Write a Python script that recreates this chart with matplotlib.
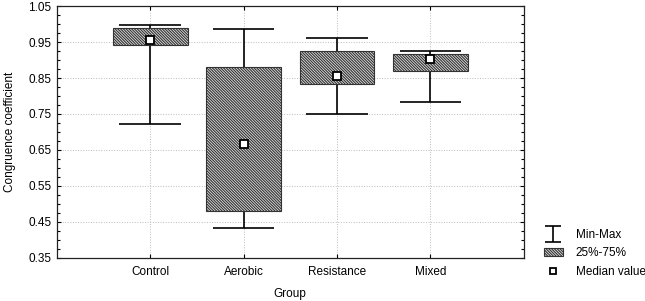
import matplotlib
matplotlib.use("Agg")
import matplotlib.pyplot as plt
from matplotlib.lines import Line2D
from matplotlib.patches import Patch
from matplotlib.path import Path
from matplotlib.ticker import MultipleLocator

plt.rcParams['font.family'] = ['Liberation Sans', 'DejaVu Sans']
plt.rcParams['hatch.color'] = '#3a3a3a'
plt.rcParams['hatch.linewidth'] = 0.8

groups = ["Control", "Aerobic", "Resistance", "Mixed"]
mins = [0.721, 0.433, 0.751, 0.783]
q25 = [0.942, 0.480, 0.832, 0.870]
medians = [0.955, 0.666, 0.855, 0.904]
q75 = [0.988, 0.881, 0.925, 0.918]
maxs = [0.997, 0.985, 0.960, 0.926]

pos = [1, 2, 3, 4]
hatch = '\\' * 12

fig = plt.figure(figsize=(6.45, 3.01), dpi=100)
ax = fig.add_axes([0.088, 0.143, 0.724, 0.837])

# whiskers
ax.vlines(pos, mins, maxs, color='black', lw=1.2, zorder=2)
ax.hlines(mins, [p - 0.33 for p in pos], [p + 0.33 for p in pos], color='black', lw=1.2, zorder=2)
ax.hlines(maxs, [p - 0.33 for p in pos], [p + 0.33 for p in pos], color='black', lw=1.2, zorder=2)

# boxes
heights = [b - a for a, b in zip(q25, q75)]
ax.bar(pos, heights, bottom=q25, width=0.8, facecolor='#e0e0e0', edgecolor='#333333',
       hatch=hatch, lw=0.8, zorder=3)

# medians
ax.plot(pos, medians, ls='none', marker='s', ms=6, mfc='white', mec='black', mew=1.3, zorder=4)

ax.set_xlim(0, 5)
ax.set_ylim(0.35, 1.05)
ax.set_xticks(pos)
ax.set_xticklabels(groups, fontsize=8.5)
ax.set_yticks([0.35, 0.45, 0.55, 0.65, 0.75, 0.85, 0.95, 1.05])
ax.set_yticklabels(["0.35", "0.45", "0.55", "0.65", "0.75", "0.85", "0.95", "1.05"], fontsize=8.5)
ax.yaxis.set_minor_locator(MultipleLocator(0.025))
ax.tick_params(direction='in', top=True, right=True, which='both', length=3, width=0.8)
ax.tick_params(which='minor', length=2)
ax.tick_params(axis='x', pad=6)
ax.tick_params(axis='y', pad=4)
ax.grid(True, which='major', ls=':', color='#bbbbbb', lw=0.7, zorder=0)
ax.set_axisbelow(True)
for s in ax.spines.values():
    s.set_linewidth(0.9)
    s.set_color('#222222')

ax.set_xlabel("Group", fontsize=8.5, labelpad=7)
ax.set_ylabel("Congruence coefficient", fontsize=8.5, labelpad=9)

minmax_marker = Path([(-1, 1), (1, 1), (0, 1), (0, -1), (-1, -1), (1, -1)],
                     [Path.MOVETO, Path.LINETO, Path.MOVETO, Path.LINETO, Path.MOVETO, Path.LINETO])
handles = [
    Line2D([], [], ls='none', marker=minmax_marker, ms=11, mec='black', mew=1.2),
    Patch(facecolor='#e0e0e0', edgecolor='#333333', hatch=hatch, lw=0.8),
    Line2D([], [], ls='none', marker='s', ms=5, mfc='white', mec='black', mew=1.3),
]
fig.legend(handles, ["Min-Max", "25%-75%", "Median value"], loc='upper left',
           bbox_to_anchor=(0.836, 0.255), frameon=False, fontsize=8.5,
           handlelength=1.6, handletextpad=1.1, labelspacing=0.55, borderaxespad=0)

fig.savefig("out.png", dpi=100)
